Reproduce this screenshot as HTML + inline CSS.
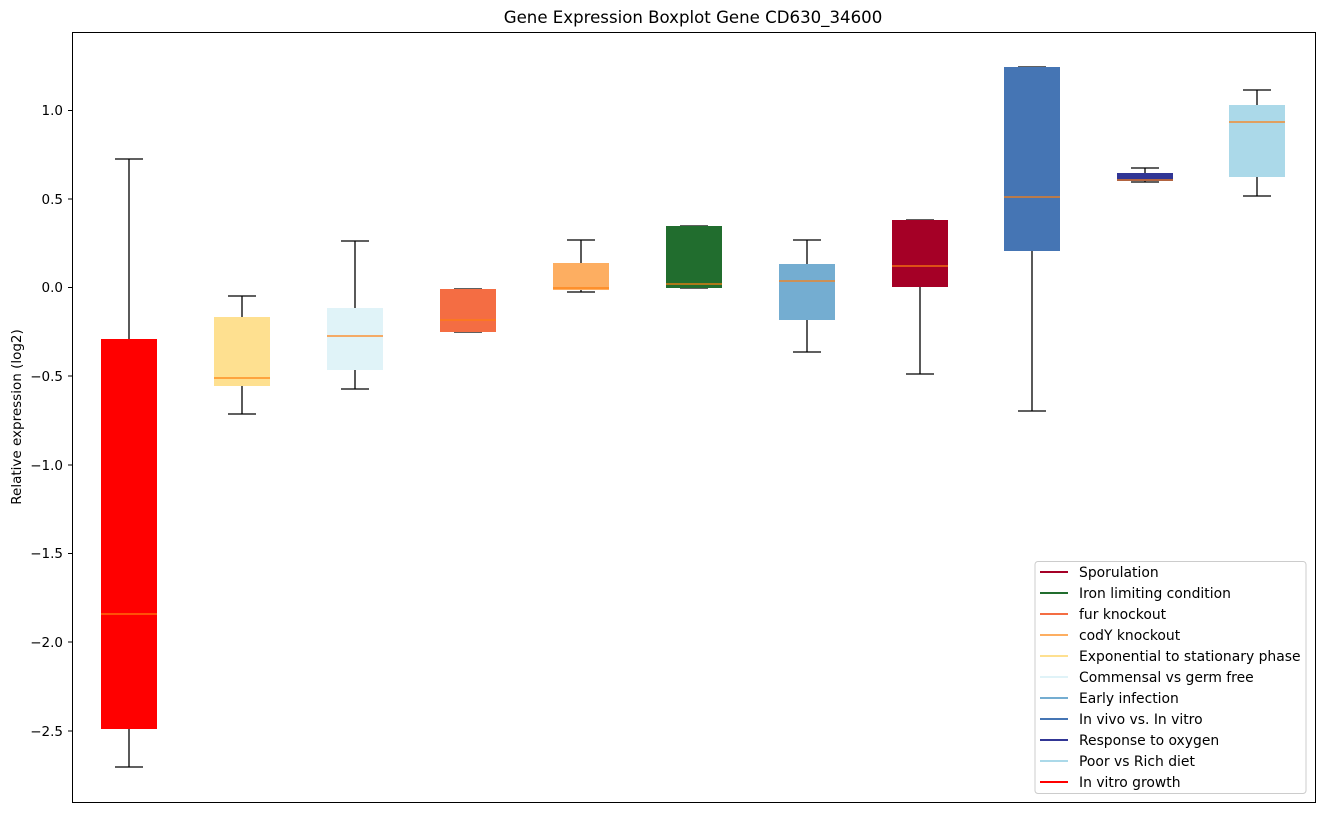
<!DOCTYPE html>
<html><head><style>body{margin:0;background:#fff}</style></head><body>
<svg width="1322" height="812" xmlns="http://www.w3.org/2000/svg" font-family="DejaVu Sans, Liberation Sans, sans-serif">
<rect width="1322" height="812" fill="#fff"/>
<text x="693" y="23" font-size="16.6" text-anchor="middle">Gene Expression Boxplot Gene CD630_34600</text>
<text transform="translate(21,417) rotate(-90)" font-size="13.5" text-anchor="middle">Relative expression (log2)</text>
<g font-size="13.5" text-anchor="end">
<text x="63" y="115">1.0</text><text x="63" y="204">0.5</text><text x="63" y="292">0.0</text>
<text x="63" y="381">−0.5</text><text x="63" y="470">−1.0</text><text x="63" y="558">−1.5</text>
<text x="63" y="647">−2.0</text><text x="63" y="736">−2.5</text>
</g>
<g stroke="#000"><line x1="68" x2="73" y1="110.5" y2="110.5"/><line x1="68" x2="73" y1="199" y2="199"/><line x1="68" x2="73" y1="287.5" y2="287.5"/><line x1="68" x2="73" y1="376" y2="376"/><line x1="68" x2="73" y1="465" y2="465"/><line x1="68" x2="73" y1="553.5" y2="553.5"/><line x1="68" x2="73" y1="642" y2="642"/><line x1="68" x2="73" y1="731" y2="731"/></g>
<g stroke="#000" stroke-width="1.3">
<line x1="129" x2="129" y1="159" y2="767"/><line x1="115" x2="143" y1="159" y2="159"/><line x1="115" x2="143" y1="767" y2="767"/>
<line x1="242" x2="242" y1="296" y2="414"/><line x1="228" x2="256" y1="296" y2="296"/><line x1="228" x2="256" y1="414" y2="414"/>
<line x1="355" x2="355" y1="241" y2="389"/><line x1="341" x2="369" y1="241" y2="241"/><line x1="341" x2="369" y1="389" y2="389"/>
<line x1="454" x2="482" y1="289" y2="289"/><line x1="454" x2="482" y1="332" y2="332"/>
<line x1="581" x2="581" y1="240" y2="292"/><line x1="567" x2="595" y1="240" y2="240"/><line x1="567" x2="595" y1="292" y2="292"/>
<line x1="680" x2="708" y1="226" y2="226"/><line x1="680" x2="708" y1="288" y2="288"/>
<line x1="807" x2="807" y1="240" y2="352"/><line x1="793" x2="821" y1="240" y2="240"/><line x1="793" x2="821" y1="352" y2="352"/>
<line x1="920" x2="920" y1="220" y2="374"/><line x1="906" x2="934" y1="220" y2="220"/><line x1="906" x2="934" y1="374" y2="374"/>
<line x1="1032" x2="1032" y1="67" y2="411"/><line x1="1018" x2="1046" y1="67" y2="67"/><line x1="1018" x2="1046" y1="411" y2="411"/>
<line x1="1145" x2="1145" y1="168" y2="182"/><line x1="1131" x2="1159" y1="168" y2="168"/><line x1="1131" x2="1159" y1="182" y2="182"/>
<line x1="1257" x2="1257" y1="90" y2="196"/><line x1="1243" x2="1271" y1="90" y2="90"/><line x1="1243" x2="1271" y1="196" y2="196"/>
</g>
<g>
<rect x="101" y="339" width="56" height="390" fill="#ff0000"/>
<rect x="214" y="317" width="56" height="69" fill="#fee090"/>
<rect x="327" y="308" width="56" height="62" fill="#e0f3f8"/>
<rect x="440" y="289" width="56" height="43" fill="#f46d43"/>
<rect x="553" y="263" width="56" height="27" fill="#fdae61"/>
<rect x="666" y="226" width="56" height="62" fill="#216d2e"/>
<rect x="779" y="264" width="56" height="56" fill="#74add1"/>
<rect x="892" y="220" width="56" height="67" fill="#a50026"/>
<rect x="1004" y="67" width="56" height="184" fill="#4575b4"/>
<rect x="1117" y="173" width="56" height="8" fill="#313695"/>
<rect x="1229" y="105" width="56" height="72" fill="#abd9e9"/>
</g>
<g stroke="#ff7f0e" stroke-width="1.2">
<line x1="101" x2="157" y1="614" y2="614"/><line x1="214" x2="270" y1="378" y2="378"/><line x1="327" x2="383" y1="336" y2="336"/>
<line x1="440" x2="496" y1="320" y2="320"/><line x1="553" x2="609" y1="288" y2="288"/><line x1="666" x2="722" y1="284" y2="284"/>
<line x1="779" x2="835" y1="281" y2="281"/><line x1="892" x2="948" y1="266" y2="266"/><line x1="1004" x2="1060" y1="197" y2="197"/>
<line x1="1117" x2="1173" y1="180" y2="180"/><line x1="1229" x2="1285" y1="122" y2="122"/>
</g>
<rect x="72.5" y="32.5" width="1243" height="770" fill="none" stroke="#000"/>
<rect x="1035" y="561.5" width="271" height="232" rx="3" fill="#fff" stroke="#ccc"/>
<g stroke-width="2">
<line x1="1040" x2="1068" y1="572" y2="572" stroke="#a50026"/>
<line x1="1040" x2="1068" y1="593" y2="593" stroke="#216d2e"/>
<line x1="1040" x2="1068" y1="614" y2="614" stroke="#f46d43"/>
<line x1="1040" x2="1068" y1="635" y2="635" stroke="#fdae61"/>
<line x1="1040" x2="1068" y1="656" y2="656" stroke="#fee090"/>
<line x1="1040" x2="1068" y1="677" y2="677" stroke="#e0f3f8"/>
<line x1="1040" x2="1068" y1="698" y2="698" stroke="#74add1"/>
<line x1="1040" x2="1068" y1="719" y2="719" stroke="#4575b4"/>
<line x1="1040" x2="1068" y1="740" y2="740" stroke="#313695"/>
<line x1="1040" x2="1068" y1="761" y2="761" stroke="#abd9e9"/>
<line x1="1040" x2="1068" y1="782" y2="782" stroke="#ff0000"/>
</g>
<g font-size="13.9" fill="#000">
<text x="1079" y="577">Sporulation</text><text x="1079" y="598">Iron limiting condition</text>
<text x="1079" y="619">fur knockout</text><text x="1079" y="640">codY knockout</text>
<text x="1079" y="661">Exponential to stationary phase</text><text x="1079" y="682">Commensal vs germ free</text>
<text x="1079" y="703">Early infection</text><text x="1079" y="724">In vivo vs. In vitro</text>
<text x="1079" y="745">Response to oxygen</text><text x="1079" y="766">Poor vs Rich diet</text>
<text x="1079" y="787">In vitro growth</text>
</g>
</svg>
</body></html>
